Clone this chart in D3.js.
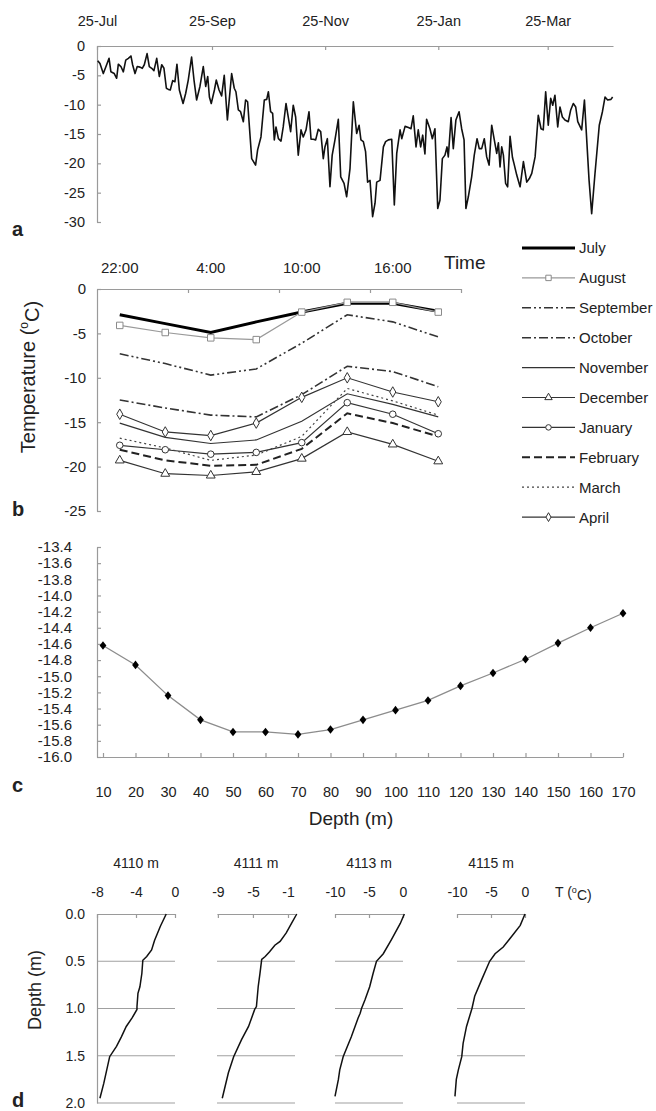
<!DOCTYPE html>
<html><head><meta charset="utf-8">
<script src="https://cdn.jsdelivr.net/npm/d3@7"></script>
<style>
body{margin:0;background:#fff}
svg{display:block;background:#fff}
text{font-family:"Liberation Sans",Arial,Helvetica,sans-serif;fill:#222}
</style>
</head><body>
<svg id="chart" width="656" height="1111"></svg>
<script>
// ---------- Panel a: daily temperature (days since 25 Jul, °C) ----------
const aStartDate = "2006-07-25";
const aTickDates = ["2006-07-25","2006-09-25","2006-11-25","2007-01-25","2007-03-25"];
const aYTicks = [0,-5,-10,-15,-20,-25,-30];
const aDailyTemps = [
[0.4,-2.5],[1.6,-3.0],[3.4,-4.7],[5.2,-3.2],[6.5,-2.1],[7.5,-4.4],[9.3,-4.7],[10.6,-5.5],[11.5,-3.1],[12.9,-3.5],
[14.2,-4.4],[15.5,-2.4],[16.9,-2.1],[18.3,-1.7],[19.2,-3.2],[20.5,-4.7],[21.7,-3.5],[23.2,-3.6],[24.4,-3.8],[25.5,-3.2],
[27.0,-1.3],[28.2,-3.5],[29.5,-3.8],[30.7,-4.2],[32.2,-2.1],[33.6,-5.2],[34.9,-3.2],[36.1,-3.8],[37.4,-7.2],[38.5,-7.4],
[39.5,-7.5],[40.8,-5.9],[42.0,-6.1],[43.1,-3.1],[44.4,-7.5],[46.4,-9.8],[47.8,-8.1],[49.2,-5.8],[51.0,-1.9],[52.3,-5.8],
[53.7,-9.2],[55.5,-6.9],[57.3,-3.5],[58.6,-6.9],[59.7,-5.2],[60.6,-8.7],[61.6,-9.8],[63.3,-7.5],[64.3,-5.8],[65.8,-7.5],
[67.2,-8.5],[68.6,-5.0],[70.3,-12.6],[72.6,-4.7],[74.0,-7.2],[74.9,-7.8],[76.2,-10.9],[77.4,-11.2],[78.9,-12.9],[80.1,-9.2],
[81.2,-9.5],[83.4,-19.2],[85.5,-20.3],[86.6,-17.7],[88.4,-15.5],[90.2,-9.2],[91.5,-9.1],[92.4,-7.8],[93.6,-11.2],[94.7,-11.5],
[95.6,-16.0],[96.5,-13.8],[97.8,-15.8],[99.2,-16.2],[100.4,-13.8],[101.9,-9.8],[103.1,-12.1],[104.4,-14.6],[105.8,-10.1],[107.1,-12.1],
[108.5,-18.6],[110.0,-14.3],[111.2,-15.5],[112.7,-14.3],[114.3,-11.2],[115.4,-15.9],[116.6,-15.9],[117.9,-16.0],[119.3,-14.2],[120.6,-14.6],
[122.0,-19.2],[122.9,-17.2],[124.2,-15.8],[125.6,-24.0],[126.8,-18.6],[128.3,-16.0],[130.1,-12.5],[131.4,-22.3],[133.2,-23.4],[134.6,-25.7],
[136.4,-20.9],[138.2,-9.5],[140.0,-14.9],[141.3,-13.5],[142.3,-16.0],[143.6,-16.3],[144.8,-18.0],[145.9,-23.2],[147.2,-22.9],[148.6,-29.1],
[149.9,-26.8],[150.8,-23.2],[152.6,-22.9],[154.4,-17.2],[155.6,-16.3],[157.1,-16.0],[158.9,-15.9],[160.3,-27.1],[161.6,-18.3],[163.4,-14.3],
[164.3,-15.8],[166.1,-13.7],[167.9,-13.9],[169.3,-14.1],[170.5,-11.9],[172.0,-17.2],[173.2,-14.3],[174.5,-17.2],[175.6,-15.2],[176.8,-18.4],
[177.7,-12.5],[179.5,-14.1],[180.8,-15.8],[182.2,-14.1],[183.7,-27.7],[184.9,-26.3],[186.2,-19.2],[187.6,-18.6],[188.7,-17.2],[189.4,-18.9],
[190.9,-12.2],[192.1,-17.5],[193.5,-12.6],[195.2,-11.2],[196.6,-14.1],[197.9,-16.0],[198.9,-27.7],[200.2,-25.7],[202.0,-22.3],[203.4,-18.6],
[204.9,-15.8],[206.1,-17.5],[207.4,-17.5],[208.8,-15.8],[210.1,-18.9],[211.4,-20.3],[212.8,-13.5],[214.2,-16.0],[215.5,-18.3],[216.4,-16.5],
[217.3,-20.6],[218.2,-17.2],[219.1,-18.6],[220.3,-23.4],[221.4,-24.0],[222.7,-15.4],[224.0,-19.0],[224.8,-20.0],[226.3,-22.0],[228.1,-24.0],
[229.9,-19.7],[231.7,-23.2],[233.1,-22.6],[234.4,-21.7],[236.2,-18.9],[237.9,-11.8],[239.4,-14.1],[240.6,-14.3],[241.9,-7.8],[243.3,-13.5],
[244.6,-8.9],[245.7,-10.1],[246.9,-8.4],[248.4,-13.8],[249.6,-10.4],[250.9,-12.1],[252.3,-12.6],[254.1,-12.9],[255.4,-10.9],[256.8,-9.8],
[258.1,-10.4],[259.2,-12.9],[261.3,-14.3],[262.8,-9.2],[265.3,-22.9],[266.7,-28.6],[268.5,-21.7],[270.8,-13.5],[272.5,-11.2],[273.9,-8.7],
[275.3,-9.2],[277.1,-9.1],[278.0,-8.7]
];
const aEndDay = 278.2;

// ---------- Panel b: diurnal cycle per month ----------
const bTimes = ["22:00","1:00","4:00","7:00","10:00","13:00","16:00","19:00"];
const bTimeLabels = ["22:00","4:00","10:00","16:00"];
const bYTicks = [0,-5,-10,-15,-20,-25];
const bMonths = ["July","August","September","October","November","December","January","February","March","April"];
const bJuly      = [-2.9,-3.9,-4.9,-3.7,-2.6,-1.6,-1.6,-2.5];
const bAugust    = [-4.1,-4.9,-5.5,-5.7,-2.6,-1.5,-1.5,-2.6];
const bSeptember = [-7.3,-8.4,-9.7,-9.0,-6.1,-2.9,-3.7,-5.4];
const bOctober   = [-12.5,-13.4,-14.2,-14.4,-11.9,-8.7,-9.3,-11.0];
const bNovember  = [-15.1,-16.7,-17.4,-17.0,-14.9,-11.8,-13.0,-14.4];
const bDecember  = [-19.3,-20.8,-21.0,-20.6,-19.1,-16.1,-17.5,-19.4];
const bJanuary   = [-17.6,-18.1,-18.6,-18.4,-17.3,-12.8,-14.1,-16.3];
const bFebruary  = [-18.1,-19.3,-19.9,-19.8,-18.0,-14.0,-15.1,-16.6];
const bMarch     = [-16.8,-17.9,-19.3,-18.7,-16.6,-11.2,-12.6,-14.2];
const bApril     = [-14.1,-16.1,-16.5,-15.1,-12.2,-10.0,-11.6,-12.7];
const bValues = [bJuly,bAugust,bSeptember,bOctober,bNovember,bDecember,bJanuary,bFebruary,bMarch,bApril];

// ---------- Panel c: temperature vs depth ----------
const cDepths = [10,20,30,40,50,60,70,80,90,100,110,120,130,140,150,160,170];
const cTemps  = [-14.62,-14.86,-15.24,-15.54,-15.69,-15.69,-15.72,-15.66,-15.54,-15.42,-15.30,-15.12,-14.96,-14.79,-14.59,-14.40,-14.22];
const cYTicks = [-13.4,-13.6,-13.8,-14.0,-14.2,-14.4,-14.6,-14.8,-15.0,-15.2,-15.4,-15.6,-15.8,-16.0];

// ---------- Panel d: profiles ----------
const dTitles = ["4110 m","4111 m","4113 m","4115 m"];
const dXTicks = [[-8,-4,0],[-9,-5,-1],[-10,-5,0],[-10,-5,0]];
const dXDomains = [[-8,0],[-9.1,-0.2],[-10,0],[-10,0]];
const dYTicks = [0,0.5,1,1.5,2];
const d4110Depth = [0,0.13,0.28,0.38,0.45,0.49,0.63,0.77,0.84,0.98,1.01,1.10,1.19,1.30,1.40,1.51,1.65,1.79,1.95];
const d4110Temp  = [-0.9,-1.5,-2.1,-2.4,-2.9,-3.3,-3.4,-3.6,-3.8,-3.9,-3.9,-4.4,-5.0,-5.5,-6.0,-6.7,-7.0,-7.3,-7.7];
const d4111Depth = [0,0.10,0.20,0.29,0.33,0.40,0.45,0.48,0.63,0.77,0.98,1.01,1.19,1.33,1.51,1.68,1.95];
const d4111Temp  = [0.0,-0.6,-1.2,-1.9,-2.5,-3.1,-3.6,-4.0,-4.2,-4.4,-4.6,-4.8,-5.5,-6.3,-7.2,-7.8,-8.5];
const d4113Depth = [0,0.10,0.27,0.42,0.50,0.63,0.77,0.91,1.00,1.05,1.10,1.30,1.51,1.65,1.75,1.93];
const d4113Temp  = [0.2,-0.4,-1.7,-2.9,-3.9,-4.4,-4.9,-5.6,-6.1,-6.3,-6.6,-7.6,-8.8,-9.3,-9.5,-10.0];
const d4115Depth = [0,0.12,0.24,0.35,0.42,0.50,0.70,0.87,1.00,1.19,1.37,1.51,1.65,1.75,1.93];
const d4115Temp  = [0.0,-0.7,-2.0,-3.2,-4.4,-5.2,-6.4,-7.4,-7.8,-8.6,-9.1,-9.3,-9.8,-10.1,-10.3];
const dProfiles = [[d4110Depth,d4110Temp],[d4111Depth,d4111Temp],[d4113Depth,d4113Temp],[d4115Depth,d4115Temp]];

// ================= drawing =================
const svg = d3.select("#chart");
const AX = "#9a9a9a";
function styleAxis(g, fs){
  g.select(".domain").attr("stroke", AX).attr("stroke-width",1.2);
  g.selectAll(".tick line").attr("stroke", AX).attr("stroke-width",1.2);
  g.selectAll(".tick text").attr("fill","#222").style("font-size", fs+"px")
    .style("font-family",'"Liberation Sans",Arial,sans-serif');
}
const fmtInt = d => String(d);
const parse = d3.timeParse("%Y-%m-%d");

// ----- Panel a -----
const a0 = parse(aStartDate);
const dayToDate = d => new Date(a0.getTime() + d*864e5);
const xa = d3.scaleTime().domain([a0, dayToDate(aEndDay)]).range([97, 613]);
const ya = d3.scaleLinear().domain([-30, 0]).range([222, 46]);
svg.append("g").attr("transform","translate(0,46)")
  .call(d3.axisTop(xa).tickValues(aTickDates.map(parse)).tickFormat(d3.timeFormat("%d-%b"))
    .tickSizeInner(-4).tickSizeOuter(0).tickPadding(20))
  .call(g=>styleAxis(g,14.5));
svg.append("g").attr("transform","translate(97,0)")
  .call(d3.axisLeft(ya).tickValues(aYTicks).tickFormat(fmtInt).tickSizeInner(-4).tickSizeOuter(0).tickPadding(12))
  .call(g=>styleAxis(g,14.5));
svg.append("path").datum(aDailyTemps)
  .attr("fill","none").attr("stroke","#111").attr("stroke-width",1.6).attr("stroke-linejoin","round")
  .attr("d", d3.line().x(d=>xa(dayToDate(d[0]))).y(d=>ya(d[1])));

// ----- Panel b -----
const xb = d3.scaleLinear().domain([-0.5, bTimes.length-0.5]).range([97, 461]);
const yb = d3.scaleLinear().domain([-25, 0]).range([511, 289]);
svg.append("g").attr("transform","translate(0,289)")
  .call(d3.axisTop(xb).tickValues([1.5,3.5,5.5,7.5]).tickFormat("").tickSizeInner(-4).tickSizeOuter(0))
  .call(g=>styleAxis(g,15));
svg.append("g").selectAll("text").data(bTimeLabels).join("text")
  .attr("x", d=>xb(bTimes.indexOf(d))).attr("y", 273).attr("text-anchor","middle")
  .style("font-size","15px").text(d=>d);
svg.append("g").attr("transform","translate(97,0)")
  .call(d3.axisLeft(yb).tickValues(bYTicks).tickFormat(fmtInt).tickSizeInner(-4).tickSizeOuter(0).tickPadding(11))
  .call(g=>styleAxis(g,15));

const bStyles = [
  {stroke:"#000", w:3,   dash:null,            sym:null},
  {stroke:"#999", w:1.2, dash:null,            sym:d3.symbolSquare,  ms:"#8a8a8a"},
  {stroke:"#333", w:1.6, dash:"9,3,2,3,2,3",   sym:null},
  {stroke:"#333", w:1.6, dash:"9,3,2,3",       sym:null},
  {stroke:"#333", w:1.2, dash:null,            sym:null},
  {stroke:"#333", w:1.2, dash:null,            sym:d3.symbolTriangle, ms:"#333"},
  {stroke:"#333", w:1.2, dash:null,            sym:d3.symbolCircle,   ms:"#333"},
  {stroke:"#222", w:2,   dash:"8,4",           sym:null},
  {stroke:"#444", w:1.2, dash:"2,3",           sym:null},
  {stroke:"#333", w:1.2, dash:null,            sym:d3.symbolDiamond,  ms:"#333"}
];
const symSize = {[d3.symbolSquare]:40};
function symArea(s){ return s===d3.symbolSquare?42: s===d3.symbolTriangle?34: s===d3.symbolCircle?34:32; }
const lineB = d3.line().x((d,i)=>xb(i)).y(d=>yb(d));
const gB = svg.append("g");
bValues.forEach((vals,k)=>{
  const st = bStyles[k];
  gB.append("path").datum(vals).attr("fill","none").attr("stroke",st.stroke)
    .attr("stroke-width",st.w).attr("stroke-dasharray",st.dash).attr("d",lineB);
});
bValues.forEach((vals,k)=>{
  const st = bStyles[k];
  if(!st.sym) return;
  gB.selectAll(null).data(vals).join("path")
    .attr("transform",(d,i)=>`translate(${xb(i)},${yb(d)})`)
    .attr("d", d3.symbol().type(st.sym).size(symArea(st.sym)))
    .attr("fill","#fff").attr("stroke",st.ms).attr("stroke-width",1);
});
// legend
const lg = svg.append("g");
bMonths.forEach((m,k)=>{
  const st = bStyles[k];
  const y = 248 + k*29.9;
  lg.append("line").attr("x1",522).attr("x2",575).attr("y1",y).attr("y2",y)
    .attr("stroke",st.stroke).attr("stroke-width",st.w).attr("stroke-dasharray",st.dash);
  if(st.sym){
    lg.append("path").attr("transform",`translate(548.5,${y})`)
      .attr("d", d3.symbol().type(st.sym).size(symArea(st.sym)*0.7))
      .attr("fill","#fff").attr("stroke",st.ms).attr("stroke-width",1);
  }
  lg.append("text").attr("x",579).attr("y",y).attr("dy","0.36em").style("font-size","15px").text(m);
});
svg.append("text").attr("x",444).attr("y",269).style("font-size","19px").text("Time");
const tLab = svg.append("text").attr("transform","translate(35,377) rotate(-90)")
  .attr("text-anchor","middle").style("font-size","20px");
tLab.append("tspan").text("Temperature  (");
tLab.append("tspan").attr("dy","-0.55em").style("font-size","12px").text("o");
tLab.append("tspan").attr("dy","0.55em").text("C)");

// ----- Panel c -----
const xc = d3.scaleLinear().domain([8.154, 170]).range([97, 623]);
const yc = d3.scaleLinear().domain([-16, -13.4]).range([757, 547]);
svg.append("g").attr("transform","translate(97,0)")
  .call(d3.axisLeft(yc).tickValues(cYTicks).tickFormat(d=>d.toFixed(1)).tickSizeInner(-4).tickSizeOuter(0).tickPadding(25))
  .call(g=>styleAxis(g,15));
svg.append("g").attr("transform","translate(0,757)")
  .call(d3.axisBottom(xc).tickValues(cDepths).tickFormat(fmtInt).tickSizeInner(-4).tickSizeOuter(0).tickPadding(30))
  .call(g=>styleAxis(g,14.5));
svg.append("path").datum(cTemps).attr("fill","none").attr("stroke","#8c8c8c").attr("stroke-width",1.3)
  .attr("d", d3.line().x((d,i)=>xc(cDepths[i])).y(d=>yc(d)));
svg.append("g").selectAll("path").data(cTemps).join("path")
  .attr("transform",(d,i)=>`translate(${xc(cDepths[i])},${yc(d)}) scale(1.15,0.85)`)
  .attr("d", d3.symbol().type(d3.symbolDiamond).size(30)).attr("fill","#000");
svg.append("text").attr("x",351).attr("y",825).attr("text-anchor","middle").style("font-size","19px").text("Depth (m)");

// ----- Panel d -----
const dRanges = [[97,175],[217,295],[335,403],[457,525]];
const yd = d3.scaleLinear().domain([0, 2]).range([914, 1103]);
dProfiles.forEach((prof,k)=>{
  const xs = d3.scaleLinear().domain(dXDomains[k]).range(dRanges[k]);
  dYTicks.filter(v=>v>0).forEach(v=>{
    svg.append("line").attr("x1",dRanges[k][0]).attr("x2",dRanges[k][1]).attr("y1",yd(v)).attr("y2",yd(v))
      .attr("stroke","#a0a0a0").attr("stroke-width",1.2);
  });
  svg.append("g").attr("transform","translate(0,914)")
    .call(d3.axisTop(xs).tickValues(dXTicks[k]).tickFormat(fmtInt).tickSizeInner(-4).tickSizeOuter(0).tickPadding(17))
    .call(g=>styleAxis(g,14));
  svg.append("text").attr("x",(dRanges[k][0]+dRanges[k][1])/2).attr("y",868).attr("text-anchor","middle")
    .style("font-size","14px").text(dTitles[k]);
  const [dep, tmp] = prof;
  svg.append("path").datum(tmp).attr("fill","none").attr("stroke","#111").attr("stroke-width",1.5)
    .attr("d", d3.line().x(d=>xs(d)).y((d,i)=>yd(dep[i])));
});
svg.append("g").attr("transform","translate(97,0)")
  .call(d3.axisLeft(yd).tickValues(dYTicks).tickFormat(d=>d.toFixed(1)).tickSize(0).tickPadding(12))
  .call(g=>styleAxis(g,14));
const tT = svg.append("text").attr("x",555).attr("y",897).style("font-size","14px");
tT.append("tspan").text("T (");
tT.append("tspan").attr("dy","-0.5em").style("font-size","9px").text("o");
tT.append("tspan").attr("dy","0.5em").text("C)");
svg.append("text").attr("transform","translate(41,990) rotate(-90)").attr("text-anchor","middle")
  .style("font-size","18px").text("Depth (m)");

// panel letters
[["a",236],["b",516],["c",792],["d",1107]].forEach(([t,y])=>{
  svg.append("text").attr("x",12).attr("y",y).style("font-size","20px").style("font-weight","bold").attr("fill","#111").text(t);
});
</script>
</body></html>
